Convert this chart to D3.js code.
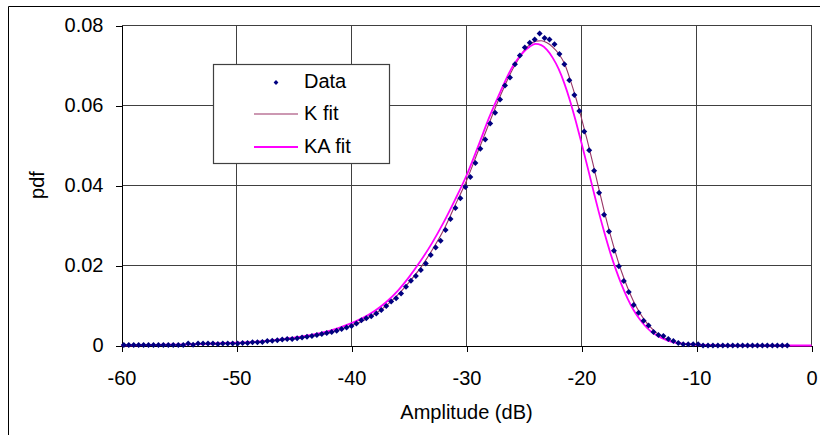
<!DOCTYPE html>
<html>
<head>
<meta charset="utf-8">
<script src="https://cdn.jsdelivr.net/npm/d3@7"></script>
<style>
  body { margin: 0; background: #fff; }
  svg { display: block; font-family: "Liberation Sans", Arial, sans-serif; }
</style>
</head>
<body>
<svg id="chart" width="820" height="435"></svg>
<script>
// Measured amplitude histogram (bin centres, dB) and its probability density
const amplitude = [
  -59.80, -59.37, -58.94, -58.51, -58.08, -57.65, -57.22, -56.79, -56.36, -55.93,
  -55.50, -55.06, -54.63, -54.20, -53.77, -53.34, -52.91, -52.48, -52.05, -51.62,
  -51.19, -50.76, -50.33, -49.90, -49.47, -49.04, -48.61, -48.18, -47.75, -47.32,
  -46.89, -46.45, -46.02, -45.59, -45.16, -44.73, -44.30, -43.87, -43.44, -43.01,
  -42.58, -42.15, -41.72, -41.29, -40.86, -40.43, -40.00, -39.57, -39.14, -38.71,
  -38.28, -37.84, -37.41, -36.98, -36.55, -36.12, -35.69, -35.26, -34.83, -34.40,
  -33.97, -33.54, -33.11, -32.68, -32.25, -31.82, -31.39, -30.96, -30.53, -30.10,
  -29.67, -29.23, -28.80, -28.37, -27.94, -27.51, -27.08, -26.65, -26.22, -25.79,
  -25.36, -24.93, -24.50, -24.07, -23.64, -23.21, -22.78, -22.35, -21.92, -21.49,
  -21.06, -20.62, -20.19, -19.76, -19.33, -18.90, -18.47, -18.04, -17.61, -17.18,
  -16.75, -16.32, -15.89, -15.46, -15.03, -14.60, -14.17, -13.74, -13.31, -12.88,
  -12.45, -12.01, -11.58, -11.15, -10.72, -10.29, -9.86, -9.43, -9.00, -8.57,
  -8.14, -7.71, -7.28, -6.85, -6.42, -5.99, -5.56, -5.13, -4.70, -4.27,
  -3.84, -3.40, -2.97, -2.54, -2.11
];
const pdfData = [
  0.0001, 0.0001, 0.0001, 0.0001, 0.0001, 0.0001, 0.0001, 0.0001, 0.0001, 0.0001,
  0.0001, 0.0001, 0.0001, 0.0005, 0.0002, 0.0005, 0.0005, 0.0005, 0.0005, 0.0004,
  0.0005, 0.0005, 0.0005, 0.0005, 0.0006, 0.0006, 0.0008, 0.0008, 0.0009, 0.0011,
  0.0012, 0.0013, 0.0015, 0.0016, 0.0016, 0.0018, 0.0020, 0.0022, 0.0024, 0.0026,
  0.0029, 0.0031, 0.0034, 0.0037, 0.0041, 0.0045, 0.0049, 0.0055, 0.0063, 0.0068,
  0.0073, 0.0080, 0.0089, 0.0099, 0.0110, 0.0118, 0.0130, 0.0147, 0.0162, 0.0174,
  0.0189, 0.0205, 0.0226, 0.0245, 0.0262, 0.0289, 0.0316, 0.0344, 0.0368, 0.0396,
  0.0421, 0.0456, 0.0492, 0.0515, 0.0555, 0.0582, 0.0615, 0.0650, 0.0670, 0.0703,
  0.0725, 0.0745, 0.0757, 0.0765, 0.0780, 0.0769, 0.0765, 0.0753, 0.0729, 0.0703,
  0.0663, 0.0626, 0.0586, 0.0535, 0.0488, 0.0437, 0.0382, 0.0327, 0.0285, 0.0237,
  0.0198, 0.0161, 0.0134, 0.0101, 0.0082, 0.0062, 0.0050, 0.0034, 0.0026, 0.0024,
  0.0016, 0.0011, 0.0006, 0.0003, 0.0003, 0.0003, 0.0003, 0, 0, 0,
  0, 0, 0, 0, 0, 0, 0, 0, 0, 0,
  0, 0, 0, 0, 0
];

// Fitted densities sampled on a coarser amplitude grid
const fitAmplitude = [
  -60, -58, -56, -54, -52, -50, -48, -46, -44, -42,
  -40, -39, -38, -37, -36, -35, -34, -33, -32, -31,
  -30, -29, -28, -27, -26, -25.5, -25, -24.5, -24, -23.5,
  -23, -22.5, -22, -21.5, -21, -20.5, -20, -19.5, -19, -18.5,
  -18, -17.5, -17, -16.5, -16, -15.5, -15, -14.5, -14, -13.5,
  -13, -12.5, -12, -11, -10, -8, -6, -4, -2, 0
];
const kFit = [
  0.00003, 0.00008, 0.0002, 0.0003, 0.0004, 0.0006, 0.0009, 0.0014, 0.0021, 0.0031,
  0.0050, 0.0062, 0.0078, 0.0099, 0.0126, 0.0158, 0.0194, 0.0238, 0.0288, 0.0350,
  0.0412, 0.0485, 0.0558, 0.0628, 0.0690, 0.0715, 0.0737, 0.0752, 0.0761, 0.0762,
  0.0757, 0.0746, 0.0730, 0.0706, 0.0666, 0.0620, 0.0568, 0.0513, 0.0454, 0.0393,
  0.0333, 0.0278, 0.0228, 0.0183, 0.0145, 0.0112, 0.0085, 0.0063, 0.0046, 0.0032,
  0.0022, 0.0014, 0.0009, 0.0003, 0.0001, 0.00002, 0, 0, 0, 0
];
const kaFit = [
  0.00005, 0.0001, 0.0002, 0.0003, 0.0005, 0.0007, 0.0010, 0.0016, 0.0024, 0.0036,
  0.0056, 0.0069, 0.0086, 0.0108, 0.0136, 0.0171, 0.0211, 0.0256, 0.0307, 0.0364,
  0.0425, 0.0497, 0.0572, 0.0638, 0.0697, 0.0718, 0.0735, 0.0747, 0.0754, 0.0751,
  0.0739, 0.0719, 0.0692, 0.0656, 0.0612, 0.0561, 0.0506, 0.0449, 0.0391, 0.0334,
  0.0281, 0.0232, 0.0189, 0.0151, 0.0118, 0.0090, 0.0068, 0.0050, 0.0036, 0.0026,
  0.0018, 0.0012, 0.0008, 0.0004, 0.0002, 0.00003, 0, 0, 0, 0
];

const xTicks = [-60, -50, -40, -30, -20, -10, 0];
const yTicks = [0, 0.02, 0.04, 0.06, 0.08];
const yTickLabels = ["0", "0.02", "0.04", "0.06", "0.08"];
const seriesNames = ["Data", "K fit", "KA fit"];
const xTitle = "Amplitude (dB)";
const yTitle = "pdf";

const svg = d3.select("#chart");
const x = d3.scaleLinear().domain([-60, 0]).range([121.5, 811.5]);
const y = d3.scaleLinear().domain([0, 0.08]).range([345.5, 25.5]);

svg.append("rect").attr("width", 820).attr("height", 435).attr("fill", "#fff");

// outer chart frame
svg.append("path")
  .attr("d", "M8.5,440V6.5H830")
  .attr("fill", "none").attr("stroke", "#000").attr("stroke-width", 1);

// gridlines
const grid = svg.append("g").attr("stroke", "#404040").attr("stroke-width", 1)
  .attr("shape-rendering", "crispEdges");
grid.selectAll("line.h").data(yTicks.slice(1)).join("line")
  .attr("x1", x(-60)).attr("x2", x(0))
  .attr("y1", d => y(d)).attr("y2", d => y(d));
grid.selectAll("line.v").data(xTicks.slice(1)).join("line")
  .attr("x1", d => x(d)).attr("x2", d => x(d))
  .attr("y1", y(0)).attr("y2", y(0.08));

// axes
const fontSize = 20;
const xAxis = svg.append("g")
  .attr("transform", `translate(0,${y(0)})`)
  .call(d3.axisBottom(x).tickValues(xTicks).tickSize(6).tickSizeOuter(0)
    .tickPadding(19).tickFormat(d => String(d)));
const yAxis = svg.append("g")
  .attr("transform", `translate(${x(-60)},0)`)
  .call(d3.axisLeft(y).tickValues(yTicks).tickSize(6).tickSizeOuter(0)
    .tickPadding(12).tickFormat((d, i) => yTickLabels[i]));
[xAxis, yAxis].forEach(g => {
  g.attr("font-family", null).attr("font-size", null);
  g.selectAll("path, line").attr("stroke", "#000").attr("shape-rendering", "crispEdges");
  g.selectAll("text").attr("fill", "#000").style("font-size", fontSize + "px");
});

// axis titles
svg.append("text")
  .attr("x", (x(-60) + x(0)) / 2).attr("y", 419)
  .attr("text-anchor", "middle").style("font-size", fontSize + "px")
  .text(xTitle);
svg.append("text")
  .attr("transform", "translate(37,185) rotate(-90)")
  .attr("text-anchor", "middle").attr("dy", "0.35em")
  .style("font-size", fontSize + "px")
  .text(yTitle);

// fitted curves
const fitLine = vals => d3.line()
  .x((d, i) => x(fitAmplitude[i]))
  .y((d, i) => y(vals[i]))
  .curve(d3.curveMonotoneX)(vals);
svg.append("path").attr("d", fitLine(kFit))
  .attr("fill", "none").attr("stroke", "#993366").attr("stroke-width", 1.1);
svg.append("path").attr("d", fitLine(kaFit))
  .attr("fill", "none").attr("stroke", "#ff00ff").attr("stroke-width", 1.8);

// measured points as small diamonds
const diamond = r => `M0,${-r}L${r},0L0,${r}L${-r},0Z`;
svg.append("g").selectAll("path").data(pdfData).join("path")
  .attr("d", diamond(3))
  .attr("transform", (d, i) => `translate(${x(amplitude[i])},${y(d)})`)
  .attr("fill", "#000080");

// legend
const legend = svg.append("g");
legend.append("rect")
  .attr("x", 213.5).attr("y", 64.5).attr("width", 176).attr("height", 99)
  .attr("fill", "#fff").attr("stroke", "#404040").attr("stroke-width", 1.2);
const rowY = [81, 112.5, 145.5];
legend.append("path").attr("d", diamond(2.4))
  .attr("transform", `translate(276,${rowY[0] + 1.5})`).attr("fill", "#000080");
legend.append("line").attr("x1", 254).attr("x2", 298)
  .attr("y1", rowY[1] + 1.5).attr("y2", rowY[1] + 1.5)
  .attr("stroke", "#993366").attr("stroke-width", 1.1);
legend.append("line").attr("x1", 254).attr("x2", 298)
  .attr("y1", rowY[2] + 1.5).attr("y2", rowY[2] + 1.5)
  .attr("stroke", "#ff00ff").attr("stroke-width", 1.8);
legend.selectAll("text").data(seriesNames).join("text")
  .attr("x", 304).attr("y", (d, i) => rowY[i]).attr("dy", "0.35em")
  .style("font-size", fontSize + "px")
  .text(d => d);
</script>
</body>
</html>
